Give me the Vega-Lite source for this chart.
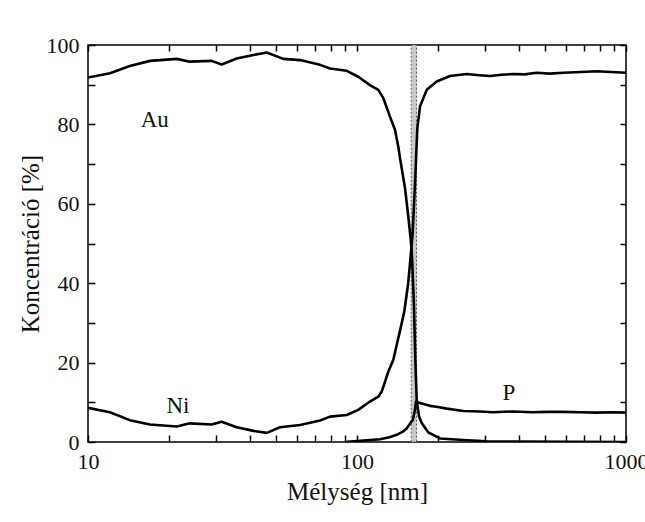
{
  "$schema": "https://vega.github.io/schema/vega-lite/v6.json",
  "width": 538,
  "height": 397,
  "autosize": {"type": "none"},
  "padding": {"left": 88, "top": 45, "right": 19, "bottom": 80},
  "background": "white",
  "config": {
    "view": {"stroke": "black", "strokeWidth": 1.5},
    "font": "Liberation Serif, Times New Roman, serif",
    "axis": {"grid": false, "domain": false, "ticks": true, "labelFont": "Liberation Serif, Times New Roman, serif", "titleFont": "Liberation Serif, Times New Roman, serif", "labelColor": "#111", "titleColor": "#111", "tickColor": "black", "labelFontSize": 22, "titleFontSize": 25, "titleFontWeight": "normal", "tickWidth": 1.5}
  },
  "datasets": {
    "curves": [
      {"x": 10, "c": 91.8, "el": "Au"},
      {"x": 12.07, "c": 92.9, "el": "Au"},
      {"x": 14.3, "c": 94.7, "el": "Au"},
      {"x": 17.0, "c": 96.0, "el": "Au"},
      {"x": 21.4, "c": 96.5, "el": "Au"},
      {"x": 23.9, "c": 95.8, "el": "Au"},
      {"x": 28.8, "c": 96.0, "el": "Au"},
      {"x": 31.4, "c": 95.1, "el": "Au"},
      {"x": 35.7, "c": 96.6, "el": "Au"},
      {"x": 41.2, "c": 97.5, "el": "Au"},
      {"x": 46.2, "c": 98.1, "el": "Au"},
      {"x": 53.2, "c": 96.5, "el": "Au"},
      {"x": 61.4, "c": 96.2, "el": "Au"},
      {"x": 72.9, "c": 95.0, "el": "Au"},
      {"x": 79.4, "c": 94.1, "el": "Au"},
      {"x": 91.6, "c": 93.5, "el": "Au"},
      {"x": 101.1, "c": 92.0, "el": "Au"},
      {"x": 111.7, "c": 89.9, "el": "Au"},
      {"x": 120.0, "c": 88.7, "el": "Au"},
      {"x": 125.3, "c": 86.6, "el": "Au"},
      {"x": 132.7, "c": 81.9, "el": "Au"},
      {"x": 138.5, "c": 78.6, "el": "Au"},
      {"x": 142.4, "c": 74.4, "el": "Au"},
      {"x": 144.5, "c": 71.5, "el": "Au"},
      {"x": 150.8, "c": 64.0, "el": "Au"},
      {"x": 155.0, "c": 57.0, "el": "Au"},
      {"x": 158.4, "c": 51.0, "el": "Au"},
      {"x": 160.3, "c": 46.0, "el": "Au"},
      {"x": 162.9, "c": 34.0, "el": "Au"},
      {"x": 164.7, "c": 21.0, "el": "Au"},
      {"x": 166.7, "c": 10.5, "el": "Au"},
      {"x": 170.0, "c": 6.5, "el": "Au"},
      {"x": 174.0, "c": 4.8, "el": "Au"},
      {"x": 184.2, "c": 2.4, "el": "Au"},
      {"x": 203.5, "c": 0.9, "el": "Au"},
      {"x": 248.5, "c": 0.5, "el": "Au"},
      {"x": 303.6, "c": 0.2, "el": "Au"},
      {"x": 400, "c": 0.1, "el": "Au"},
      {"x": 1000, "c": 0.0, "el": "Au"},
      {"x": 10, "c": 8.6, "el": "Ni"},
      {"x": 12.07, "c": 7.5, "el": "Ni"},
      {"x": 14.3, "c": 5.5, "el": "Ni"},
      {"x": 17.0, "c": 4.4, "el": "Ni"},
      {"x": 21.4, "c": 3.9, "el": "Ni"},
      {"x": 23.9, "c": 4.7, "el": "Ni"},
      {"x": 28.8, "c": 4.4, "el": "Ni"},
      {"x": 31.4, "c": 5.1, "el": "Ni"},
      {"x": 35.7, "c": 3.7, "el": "Ni"},
      {"x": 41.2, "c": 2.8, "el": "Ni"},
      {"x": 46.2, "c": 2.3, "el": "Ni"},
      {"x": 51.7, "c": 3.7, "el": "Ni"},
      {"x": 61.4, "c": 4.3, "el": "Ni"},
      {"x": 72.9, "c": 5.4, "el": "Ni"},
      {"x": 79.4, "c": 6.4, "el": "Ni"},
      {"x": 91.6, "c": 6.8, "el": "Ni"},
      {"x": 101.1, "c": 8.1, "el": "Ni"},
      {"x": 111.7, "c": 10.2, "el": "Ni"},
      {"x": 120.0, "c": 11.4, "el": "Ni"},
      {"x": 123.6, "c": 12.7, "el": "Ni"},
      {"x": 130.7, "c": 17.7, "el": "Ni"},
      {"x": 136.5, "c": 20.7, "el": "Ni"},
      {"x": 140.5, "c": 24.5, "el": "Ni"},
      {"x": 144.5, "c": 28.0, "el": "Ni"},
      {"x": 150.0, "c": 33.0, "el": "Ni"},
      {"x": 155.0, "c": 40.0, "el": "Ni"},
      {"x": 158.4, "c": 47.0, "el": "Ni"},
      {"x": 161.1, "c": 53.0, "el": "Ni"},
      {"x": 164.3, "c": 65.0, "el": "Ni"},
      {"x": 167.6, "c": 79.0, "el": "Ni"},
      {"x": 171.5, "c": 84.5, "el": "Ni"},
      {"x": 181.6, "c": 88.7, "el": "Ni"},
      {"x": 197.9, "c": 90.8, "el": "Ni"},
      {"x": 221.7, "c": 92.2, "el": "Ni"},
      {"x": 255.7, "c": 92.7, "el": "Ni"},
      {"x": 285, "c": 92.4, "el": "Ni"},
      {"x": 312.2, "c": 92.2, "el": "Ni"},
      {"x": 345, "c": 92.5, "el": "Ni"},
      {"x": 381.1, "c": 92.7, "el": "Ni"},
      {"x": 420, "c": 92.6, "el": "Ni"},
      {"x": 465.6, "c": 93.0, "el": "Ni"},
      {"x": 520, "c": 92.8, "el": "Ni"},
      {"x": 584.7, "c": 93.0, "el": "Ni"},
      {"x": 680, "c": 93.2, "el": "Ni"},
      {"x": 778.2, "c": 93.4, "el": "Ni"},
      {"x": 880, "c": 93.2, "el": "Ni"},
      {"x": 1000, "c": 93.0, "el": "Ni"},
      {"x": 90, "c": 0.0, "el": "P"},
      {"x": 102.6, "c": 0.3, "el": "P"},
      {"x": 121.8, "c": 0.7, "el": "P"},
      {"x": 132.0, "c": 1.2, "el": "P"},
      {"x": 140.5, "c": 1.8, "el": "P"},
      {"x": 148.0, "c": 2.6, "el": "P"},
      {"x": 153.0, "c": 3.4, "el": "P"},
      {"x": 158.0, "c": 4.8, "el": "P"},
      {"x": 161.1, "c": 5.5, "el": "P"},
      {"x": 164.3, "c": 8.1, "el": "P"},
      {"x": 165.7, "c": 10.2, "el": "P"},
      {"x": 170.0, "c": 9.9, "el": "P"},
      {"x": 174.0, "c": 9.7, "el": "P"},
      {"x": 186.8, "c": 9.1, "el": "P"},
      {"x": 200.0, "c": 8.8, "el": "P"},
      {"x": 215.5, "c": 8.4, "el": "P"},
      {"x": 248.5, "c": 7.8, "el": "P"},
      {"x": 286.6, "c": 7.7, "el": "P"},
      {"x": 320, "c": 7.5, "el": "P"},
      {"x": 381.1, "c": 7.7, "el": "P"},
      {"x": 450, "c": 7.5, "el": "P"},
      {"x": 507.2, "c": 7.6, "el": "P"},
      {"x": 584.7, "c": 7.6, "el": "P"},
      {"x": 674.5, "c": 7.5, "el": "P"},
      {"x": 778, "c": 7.4, "el": "P"},
      {"x": 894.5, "c": 7.5, "el": "P"},
      {"x": 1000, "c": 7.4, "el": "P"}
    ],
    "band": [{"x": 159, "x2": 166.5}],
    "labels": [
      {"x": 17.7, "c": 81, "t": "Au"},
      {"x": 21.6, "c": 9, "t": "Ni"},
      {"x": 367, "c": 12.4, "t": "P"}
    ]
  },
  "layer": [
    {
      "data": {"name": "band"},
      "mark": {"type": "rect", "fill": "#c8c8c8", "stroke": "#555555", "strokeWidth": 1, "strokeDash": [2, 2]},
      "encoding": {
        "x": {"field": "x", "type": "quantitative", "scale": {"type": "log", "domain": [10, 1000], "nice": false}, "axis": null},
        "x2": {"field": "x2"}
      }
    },
    {
      "data": {"name": "curves"},
      "mark": {"type": "line", "color": "black", "strokeWidth": 2.6, "strokeJoin": "round", "clip": true},
      "encoding": {
        "x": {
          "field": "x", "type": "quantitative",
          "scale": {"type": "log", "domain": [10, 1000], "nice": false},
          "axis": {
            "orient": "bottom",
            "title": "Mélység [nm]",
            "values": [10, 20, 30, 40, 50, 60, 70, 80, 90, 100, 200, 300, 400, 500, 600, 700, 800, 900, 1000],
            "labelExpr": "indexof([10,100,1000], datum.value) >= 0 ? format(datum.value, 'd') : ''",
            "labelFlush": false,
            "labelOverlap": false,
            "ticks": true,
            "tickSize": -7,
            "labelPadding": 16,
            "titlePadding": 7
          }
        },
        "y": {
          "field": "c", "type": "quantitative",
          "scale": {"domain": [0, 100], "nice": false},
          "axis": {
            "orient": "left",
            "title": "Koncentráció [%]",
            "values": [0, 10, 20, 30, 40, 50, 60, 70, 80, 90, 100],
            "labelExpr": "datum.value % 20 == 0 ? format(datum.value, 'd') : ''",
            "labelOverlap": false,
            "ticks": true,
            "tickSize": -7,
            "labelPadding": 16,
            "titlePadding": 3
          }
        },
        "detail": {"field": "el"}
      }
    },
    {
      "data": {"name": "labels"},
      "mark": {"type": "text", "font": "Liberation Serif, Times New Roman, serif", "fontSize": 23, "color": "#111"},
      "encoding": {
        "x": {
          "field": "x", "type": "quantitative",
          "scale": {"type": "log", "domain": [10, 1000], "nice": false},
          "axis": {
            "orient": "top",
            "title": null,
            "labels": false,
            "ticks": true,
            "values": [10, 20, 30, 40, 50, 60, 70, 80, 90, 100, 200, 300, 400, 500, 600, 700, 800, 900, 1000],
            "tickSize": -6
          }
        },
        "y": {
          "field": "c", "type": "quantitative",
          "scale": {"domain": [0, 100], "nice": false},
          "axis": {
            "orient": "right",
            "title": null,
            "labels": false,
            "ticks": true,
            "values": [0, 10, 20, 30, 40, 50, 60, 70, 80, 90, 100],
            "tickSize": -6
          }
        },
        "text": {"field": "t"}
      }
    }
  ],
  "resolve": {"axis": {"x": "independent", "y": "independent"}}
}
